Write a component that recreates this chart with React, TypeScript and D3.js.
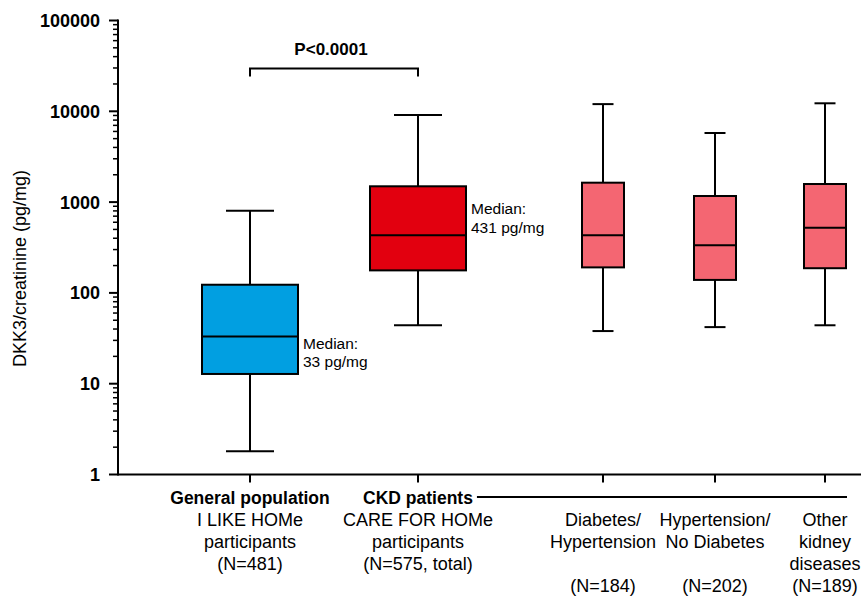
import { useEffect, useRef } from "react";
import * as d3 from "d3";

// groups, left to right
const groups = [
    "General population",
    "CKD patients",
    "Diabetes/Hypertension",
    "Hypertension/No Diabetes",
    "Other kidney diseases",
];

// box plot stats (pg/mg)
const whiskerLow = [1.8, 44, 38, 42, 44];
const q1 = [12.8, 177, 191, 139, 187];
const median = [33, 431, 431, 334, 522];
const q3 = [123, 1493, 1636, 1167, 1582];
const whiskerHigh = [804, 9100, 12000, 5770, 12250];

const fills = ["#019fe1", "#e2000f", "#f46672", "#f46672", "#f46672"];
const wide = [true, true, false, false, false];

// label text under each box (first row bold, only for the two main groups)
const headLabels = ["General population", "CKD patients", "", "", ""];
const subLabels = [
    ["I LIKE HOMe", "participants", "(N=481)"],
    ["CARE FOR HOMe", "participants", "(N=575, total)"],
    ["Diabetes/", "Hypertension", "", "(N=184)"],
    ["Hypertension/", "No Diabetes", "", "(N=202)"],
    ["Other", "kidney", "diseases", "(N=189)"],
];

// median notes: first one hangs below the median line, second sits above it
const medianNotes = ["33 pg/mg", "431 pg/mg"];
const noteBelow = [true, false];

const yTicks = [1, 10, 100, 1000, 10000, 100000];
const pText = "P<0.0001";

const W = 861;
const H = 596;
const FONT = "'Liberation Sans', Arial, Helvetica, sans-serif";

export default function App() {
    const svgRef = useRef<SVGSVGElement | null>(null);

    useEffect(() => {
        const svg = d3.select(svgRef.current!).attr("width", W).attr("height", H);
        svg.selectAll("*").remove();
        svg.style("font-family", FONT);

        const axisX = 118;
        const y = d3.scaleLog().domain([1, 100000]).range([474.5, 20.5]);
        const x = d3
            .scaleOrdinal<string, number>()
            .domain(groups)
            .range([250, 418, 603, 715, 825]);

        const boxW = (i: number) => (wide[i] ? 96 : 42);

        // y axis
        const yAxis = svg.append("g").attr("transform", `translate(${axisX},0)`);
        yAxis
            .append("line")
            .attr("y1", y(100000) - 1)
            .attr("y2", y(1) + 1)
            .attr("stroke", "#000")
            .attr("stroke-width", 2);

        const minor: number[] = [];
        for (let k = 0; k < 5; k++) {
            for (let m = 2; m <= 9; m++) minor.push(m * Math.pow(10, k));
        }
        yAxis
            .selectAll("line.minor")
            .data(minor)
            .enter()
            .append("line")
            .attr("class", "minor")
            .attr("x1", -5)
            .attr("x2", 0)
            .attr("y1", (d) => y(d))
            .attr("y2", (d) => y(d))
            .attr("stroke", "#000")
            .attr("stroke-width", 1.5);

        yAxis
            .selectAll("line.major")
            .data(yTicks)
            .enter()
            .append("line")
            .attr("class", "major")
            .attr("x1", -9)
            .attr("x2", 0)
            .attr("y1", (d) => y(d))
            .attr("y2", (d) => y(d))
            .attr("stroke", "#000")
            .attr("stroke-width", 2);

        yAxis
            .selectAll("text.tick")
            .data(yTicks)
            .enter()
            .append("text")
            .attr("class", "tick")
            .attr("x", -18)
            .attr("y", (d) => y(d))
            .attr("dy", "0.36em")
            .attr("text-anchor", "end")
            .style("font-size", "18px")
            .style("font-weight", "bold")
            .text((d) => String(d));

        // y axis title
        svg.append("text")
            .attr("transform", `translate(26,${(165 + 372) / 2}) rotate(-90)`)
            .attr("text-anchor", "middle")
            .style("font-size", "18px")
            .text("DKK3/creatinine (pg/mg)");

        // x axis
        svg.append("line")
            .attr("x1", axisX)
            .attr("x2", W)
            .attr("y1", y(1))
            .attr("y2", y(1))
            .attr("stroke", "#000")
            .attr("stroke-width", 2);

        svg.selectAll("line.xtick")
            .data(groups)
            .enter()
            .append("line")
            .attr("class", "xtick")
            .attr("x1", (d) => x(d))
            .attr("x2", (d) => x(d))
            .attr("y1", y(1))
            .attr("y2", y(1) + 8)
            .attr("stroke", "#000")
            .attr("stroke-width", 2);

        // boxes
        const box = svg
            .selectAll("g.box")
            .data(groups)
            .enter()
            .append("g")
            .attr("class", "box");

        box.append("line")
            .attr("x1", (d) => x(d))
            .attr("x2", (d) => x(d))
            .attr("y1", (_, i) => y(whiskerLow[i]))
            .attr("y2", (_, i) => y(whiskerHigh[i]))
            .attr("stroke", "#000")
            .attr("stroke-width", 2);

        [whiskerLow, whiskerHigh].forEach((arr) => {
            box.append("line")
                .attr("x1", (d, i) => x(d) - boxW(i) / 4)
                .attr("x2", (d, i) => x(d) + boxW(i) / 4)
                .attr("y1", (_, i) => y(arr[i]))
                .attr("y2", (_, i) => y(arr[i]))
                .attr("stroke", "#000")
                .attr("stroke-width", 2);
        });

        box.append("rect")
            .attr("x", (d, i) => x(d) - boxW(i) / 2)
            .attr("y", (_, i) => y(q3[i]))
            .attr("width", (_, i) => boxW(i))
            .attr("height", (_, i) => y(q1[i]) - y(q3[i]))
            .attr("fill", (_, i) => fills[i])
            .attr("stroke", "#000")
            .attr("stroke-width", 2);

        box.append("line")
            .attr("x1", (d, i) => x(d) - boxW(i) / 2)
            .attr("x2", (d, i) => x(d) + boxW(i) / 2)
            .attr("y1", (_, i) => y(median[i]))
            .attr("y2", (_, i) => y(median[i]))
            .attr("stroke", "#000")
            .attr("stroke-width", 2);

        // median notes next to the two main boxes
        medianNotes.forEach((note, i) => {
            const tx = x(groups[i]) + boxW(i) / 2 + 5;
            const ty = noteBelow[i] ? y(median[i]) + 12 : y(median[i]) - 21;
            const t = svg
                .append("text")
                .attr("x", tx)
                .attr("y", ty)
                .style("font-size", "15.5px");
            t.append("tspan").attr("x", tx).attr("dy", 0).text("Median:");
            t.append("tspan").attr("x", tx).attr("dy", 18.5).text(note);
        });

        // significance bracket
        const bx1 = x(groups[0]);
        const bx2 = x(groups[1]);
        const by = 68.5;
        svg.append("path")
            .attr("d", `M${bx1},${by + 8}V${by}H${bx2}V${by + 8}`)
            .attr("fill", "none")
            .attr("stroke", "#000")
            .attr("stroke-width", 2);
        svg.append("text")
            .attr("x", (bx1 + bx2) / 2 - 3)
            .attr("y", by - 14)
            .attr("text-anchor", "middle")
            .style("font-size", "17px")
            .style("font-weight", "bold")
            .text(pText);

        // category labels
        const labelTop = 504;
        const lineH = 22;
        let ckdRight = 0;
        groups.forEach((g, i) => {
            if (headLabels[i]) {
                const t = svg
                    .append("text")
                    .attr("x", x(g))
                    .attr("y", labelTop)
                    .attr("text-anchor", "middle")
                    .style("font-size", "17.5px")
                    .style("font-weight", "bold")
                    .text(headLabels[i]);
                if (i === 1) ckdRight = x(g) + (t.node() as SVGTextElement).getComputedTextLength() / 2;
            }
            subLabels[i].forEach((s, j) => {
                if (!s) return;
                svg.append("text")
                    .attr("x", x(g))
                    .attr("y", labelTop + lineH * (j + 1))
                    .attr("text-anchor", "middle")
                    .style("font-size", "18px")
                    .text(s);
            });
        });

        // CKD subgroup line
        const last = groups.length - 1;
        svg.append("line")
            .attr("x1", ckdRight + 4)
            .attr("x2", x(groups[last]) + boxW(last) / 2 + 1)
            .attr("y1", labelTop - 7)
            .attr("y2", labelTop - 7)
            .attr("stroke", "#000")
            .attr("stroke-width", 2);
    }, []);

    return (
        <svg
            ref={svgRef}
            style={{ position: "absolute", left: 0, top: 0, background: "#fff" }}
        />
    );
}
